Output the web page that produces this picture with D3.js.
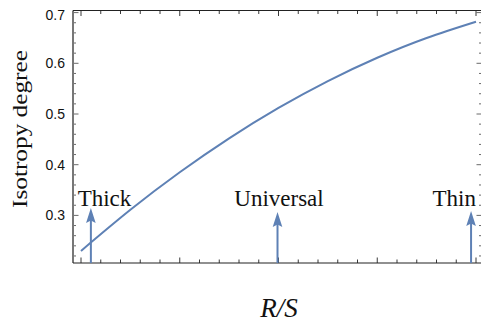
<!DOCTYPE html>
<html>
<head>
<meta charset="utf-8">
<script src="https://cdn.jsdelivr.net/npm/d3@7"></script>
<style>
  body { margin: 0; background: #fff; }
  svg { display: block; }
</style>
</head>
<body>
<svg id="chart"></svg>
<script>
// curve (x in arbitrary R/S units, ticks unlabeled)
var ratioValues   = [0, 0.5, 1, 1.5, 2, 2.5, 3, 3.5, 4];
var isotropyVals  = [0.230, 0.311, 0.385, 0.452, 0.512, 0.565, 0.611, 0.650, 0.682];

// regimes marked with arrows
var regimeNames   = ["Thick", "Universal", "Thin"];
var regimeX       = [0.10, 1.99, 3.95];
var regimeTip     = [0.3146, 0.3067, 0.3087];
var regimeLabelX  = [0.238, 2.005, 3.78];
var regimeLabelY  = 0.3185;

var yTickLabels   = [0.3, 0.4, 0.5, 0.6, 0.7];

var width = 481, height = 329;
var plotLeft = 73, plotRight = 482, plotTop = 10.5, plotBottom = 263;
var blue = "#5e81b5";
var serif = "Liberation Serif, DejaVu Serif, serif";

var svg = d3.select("#chart")
            .attr("width", width)
            .attr("height", height);

var x = d3.scaleLinear()
          .domain([(plotLeft - 81) / 98.75, (plotRight - 81) / 98.75])
          .range([plotLeft, plotRight]);
var y = d3.scaleLinear()
          .domain([0.5 - (plotBottom - 114) / 507, 0.5 + (114 - plotTop) / 507])
          .range([plotBottom, plotTop]);

// minor ticks every 0.02 on y, every 0.2 on x
var yMinor = d3.range(0.22, 0.705, 0.02).map(function (d) { return +d.toFixed(2); });
var xMinor = d3.range(0, 4.05, 0.2).map(function (d) { return +d.toFixed(1); });

function isMajorY(d) { return Math.abs(d * 10 - Math.round(d * 10)) < 1e-6; }
function isMajorX(d) { return Math.abs(d - Math.round(d)) < 1e-6; }

var frame = svg.append("g").attr("class", "frame");

// tick marks on all four sides, pointing inward
frame.selectAll("line.yl").data(yMinor).enter().append("line")
     .attr("x1", plotLeft).attr("x2", function (d) { return plotLeft + (isMajorY(d) ? 5.5 : 3); })
     .attr("y1", function (d) { return y(d); }).attr("y2", function (d) { return y(d); })
     .attr("stroke", "#444").attr("stroke-width", 0.8);
frame.selectAll("line.yr").data(yMinor).enter().append("line")
     .attr("x1", plotRight).attr("x2", function (d) { return plotRight - (isMajorY(d) ? 5.5 : 3); })
     .attr("y1", function (d) { return y(d); }).attr("y2", function (d) { return y(d); })
     .attr("stroke", "#444").attr("stroke-width", 0.8);
frame.selectAll("line.xb").data(xMinor).enter().append("line")
     .attr("x1", function (d) { return x(d); }).attr("x2", function (d) { return x(d); })
     .attr("y1", plotBottom).attr("y2", function (d) { return plotBottom - (isMajorX(d) ? 5.5 : 3.5); })
     .attr("stroke", "#222").attr("stroke-width", 0.9);
frame.selectAll("line.xt").data(xMinor).enter().append("line")
     .attr("x1", function (d) { return x(d); }).attr("x2", function (d) { return x(d); })
     .attr("y1", plotTop).attr("y2", function (d) { return plotTop + (isMajorX(d) ? 5.5 : 3.5); })
     .attr("stroke", "#222").attr("stroke-width", 0.9);

// frame lines
frame.append("line").attr("x1", plotLeft).attr("x2", plotLeft).attr("y1", plotTop).attr("y2", plotBottom)
     .attr("stroke", "#777").attr("stroke-width", 2);
frame.append("line").attr("x1", plotLeft).attr("x2", plotRight).attr("y1", plotBottom).attr("y2", plotBottom)
     .attr("stroke", "#222").attr("stroke-width", 1.2);
frame.append("line").attr("x1", plotLeft).attr("x2", plotRight).attr("y1", plotTop).attr("y2", plotTop)
     .attr("stroke", "#222").attr("stroke-width", 1.2);
frame.append("line").attr("x1", plotRight).attr("x2", plotRight).attr("y1", plotTop).attr("y2", plotBottom)
     .attr("stroke", "#777").attr("stroke-width", 1.5);

// y tick labels
svg.append("g").selectAll("text").data(yTickLabels).enter().append("text")
   .attr("x", plotLeft - 8)
   .attr("y", function (d) { return d === 0.7 ? y(d) + 2 : y(d); })  // top label sits a bit lower in the original
   .attr("dy", "0.36em")
   .attr("text-anchor", "end")
   .attr("font-family", "Liberation Sans, Arial, sans-serif")
   .attr("font-size", 14)
   .attr("fill", "#111")
   .text(function (d) { return d.toFixed(1); });

// the curve
var points = ratioValues.map(function (v, i) { return [v, isotropyVals[i]]; });
var line = d3.line()
             .x(function (d) { return x(d[0]); })
             .y(function (d) { return y(d[1]); })
             .curve(d3.curveNatural);
svg.append("path")
   .datum(points)
   .attr("d", line)
   .attr("fill", "none")
   .attr("stroke", blue)
   .attr("stroke-width", 2);

// arrows with their labels
var arrows = svg.append("g").attr("class", "arrows");
regimeNames.forEach(function (name, i) {
    var ax = x(regimeX[i]), tip = y(regimeTip[i]);
    arrows.append("line")
          .attr("x1", ax).attr("x2", ax)
          .attr("y1", plotBottom).attr("y2", tip + 10)
          .attr("stroke", blue).attr("stroke-width", 2);
    arrows.append("path")
          .attr("d", "M" + ax + "," + tip +
                     "L" + (ax + 4.8) + "," + (tip + 15) +
                     "L" + ax + "," + (tip + 12.5) +
                     "L" + (ax - 4.8) + "," + (tip + 15) + "Z")
          .attr("fill", blue);
    svg.append("text")
       .attr("x", x(regimeLabelX[i]))
       .attr("y", y(regimeLabelY))
       .attr("text-anchor", "middle")
       .attr("font-family", serif)
       .attr("font-size", 23)
       .attr("fill", "#111")
       .text(name);
});

// axis titles
svg.append("text")
   .attr("transform", "translate(27,129) rotate(-90)")
   .attr("text-anchor", "middle")
   .attr("font-family", serif)
   .attr("font-size", 22)
   .attr("textLength", 158)
   .attr("lengthAdjust", "spacingAndGlyphs")
   .attr("fill", "#111")
   .text("Isotropy degree");

svg.append("text")
   .attr("x", 279)
   .attr("y", 317)
   .attr("text-anchor", "middle")
   .attr("font-family", serif)
   .attr("font-style", "italic")
   .attr("font-size", 27)
   .attr("fill", "#111")
   .text("R/S");
</script>
</body>
</html>
